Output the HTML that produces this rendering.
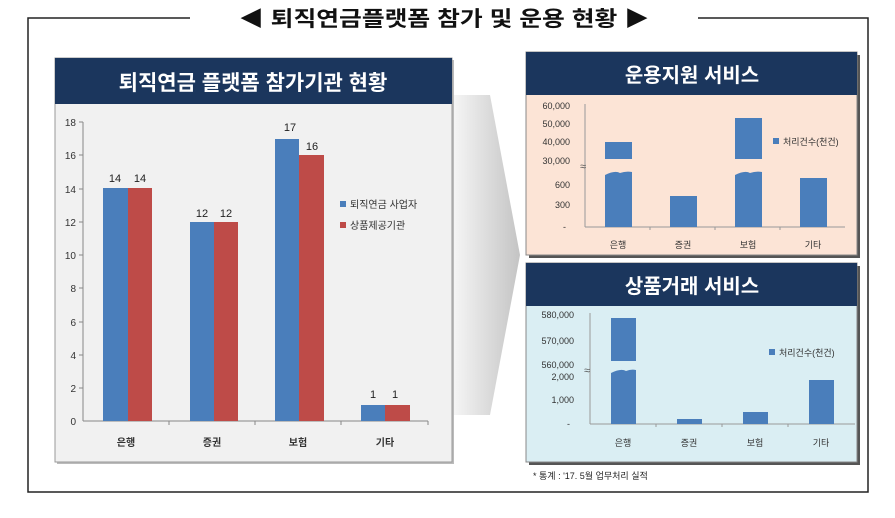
<!DOCTYPE html>
<html><head><meta charset="utf-8"><style>
html,body{margin:0;padding:0;background:#fff;}
svg{display:block;font-family:"Liberation Sans","Noto Sans CJK KR",sans-serif;}
</style></head><body>
<svg width="895" height="518" viewBox="0 0 895 518" xmlns="http://www.w3.org/2000/svg">
<defs>
<linearGradient id="arr" x1="0" x2="1" y1="0" y2="0"><stop offset="0" stop-color="#f6f6f6"/><stop offset="1" stop-color="#c4c4c4"/></linearGradient>
</defs>
<polyline points="190,18 28,18 28,492 868,492 868,18 698,18" fill="none" stroke="#222" stroke-width="1.5"/>
<text x="444" y="26" text-anchor="middle" font-size="21" font-weight="bold" fill="#111" textLength="410" lengthAdjust="spacingAndGlyphs">◀ 퇴직연금플랫폼 참가 및 운용 현황 ▶</text>
<polygon points="452,95 490,95 520,255 490,415 452,415" fill="url(#arr)"/>
<rect x="57" y="60" width="397" height="404" fill="#bbb"/>
<rect x="55" y="58" width="397" height="404" fill="#f1f1f1" stroke="#999" stroke-width="1"/>
<rect x="55" y="58" width="397" height="46" fill="#1b365d"/>
<text x="253" y="90" text-anchor="middle" font-size="21" font-weight="bold" fill="#fff">퇴직연금 플랫폼 참가기관 현황</text>
<g stroke="#888" stroke-width="1">
<line x1="83" y1="122" x2="83" y2="421"/><line x1="83" y1="421" x2="428" y2="421"/>
<line x1="79" y1="122" x2="83" y2="122"/><line x1="79" y1="155" x2="83" y2="155"/><line x1="79" y1="189" x2="83" y2="189"/><line x1="79" y1="222" x2="83" y2="222"/><line x1="79" y1="255" x2="83" y2="255"/><line x1="79" y1="288" x2="83" y2="288"/><line x1="79" y1="322" x2="83" y2="322"/><line x1="79" y1="355" x2="83" y2="355"/><line x1="79" y1="388" x2="83" y2="388"/>
<line x1="169" y1="421" x2="169" y2="425"/><line x1="255" y1="421" x2="255" y2="425"/><line x1="341" y1="421" x2="341" y2="425"/><line x1="428" y1="421" x2="428" y2="425"/>
</g>
<g font-size="10" fill="#333" text-anchor="end">
<text x="76" y="126">18</text><text x="76" y="159">16</text><text x="76" y="193">14</text><text x="76" y="226">12</text><text x="76" y="259">10</text><text x="76" y="292">8</text><text x="76" y="326">6</text><text x="76" y="359">4</text><text x="76" y="392">2</text><text x="76" y="425">0</text>
</g>
<g>
<rect x="103" y="188" width="25" height="233" fill="#4a7ebb"/><rect x="128" y="188" width="24" height="233" fill="#be4b48"/>
<rect x="190" y="222" width="24" height="199" fill="#4a7ebb"/><rect x="214" y="222" width="24" height="199" fill="#be4b48"/>
<rect x="275" y="139" width="24" height="282" fill="#4a7ebb"/><rect x="299" y="155" width="25" height="266" fill="#be4b48"/>
<rect x="361" y="405" width="24" height="16" fill="#4a7ebb"/><rect x="385" y="405" width="25" height="16" fill="#be4b48"/>
</g>
<g font-size="11" fill="#222" text-anchor="middle">
<text x="115" y="182">14</text><text x="140" y="182">14</text>
<text x="202" y="217">12</text><text x="226" y="217">12</text>
<text x="290" y="131">17</text><text x="312" y="150">16</text>
<text x="373" y="398">1</text><text x="395" y="398">1</text>
</g>
<g font-size="10" font-weight="bold" fill="#333" text-anchor="middle">
<text x="126" y="446">은행</text><text x="212" y="446">증권</text><text x="298" y="446">보험</text><text x="385" y="446">기타</text>
</g>
<rect x="340" y="201" width="6" height="6" fill="#4a7ebb"/><text x="350" y="208" font-size="10" fill="#333">퇴직연금 사업자</text>
<rect x="340" y="222" width="6" height="6" fill="#be4b48"/><text x="350" y="229" font-size="10" fill="#333">상품제공기관</text>

<rect x="529" y="55" width="331" height="203" fill="#555"/>
<rect x="526" y="52" width="331" height="203" fill="#fce4d6" stroke="#888"/>
<rect x="526" y="52" width="331" height="43" fill="#1b365d"/>
<text x="692" y="82" text-anchor="middle" font-size="20" font-weight="bold" fill="#fff">운용지원 서비스</text>
<g stroke="#999"><line x1="585" y1="104" x2="585" y2="227"/><line x1="585" y1="227" x2="845" y2="227"/>
<line x1="650" y1="227" x2="650" y2="230"/><line x1="715" y1="227" x2="715" y2="230"/><line x1="780" y1="227" x2="780" y2="230"/></g>
<g font-size="9" fill="#333" text-anchor="end">
<text x="570" y="109">60,000</text><text x="570" y="127">50,000</text><text x="570" y="145">40,000</text><text x="570" y="164">30,000</text><text x="570" y="188">600</text><text x="570" y="208">300</text><text x="566" y="230">-</text>
</g>
<text x="580" y="170" font-size="11" fill="#555">≈</text>
<g fill="#4a7ebb">
<rect x="605" y="142" width="27" height="17"/><path d="M605,175 Q615,170 620,173 Q626,171 632,172 L632,227 L605,227Z"/>
<rect x="670" y="196" width="27" height="31"/>
<rect x="735" y="118" width="27" height="41"/><path d="M735,175 Q745,170 750,173 Q756,171 762,172 L762,227 L735,227Z"/>
<rect x="800" y="178" width="27" height="49"/>
</g>
<g font-size="9" fill="#333" text-anchor="middle"><text x="618" y="248">은행</text><text x="683" y="248">증권</text><text x="748" y="248">보험</text><text x="813" y="248">기타</text></g>
<rect x="773" y="138" width="6" height="6" fill="#4a7ebb"/><text x="783" y="145" font-size="9" fill="#333">처리건수(천건)</text>

<rect x="529" y="266" width="331" height="199" fill="#555"/>
<rect x="526" y="263" width="331" height="199" fill="#daeef3" stroke="#888"/>
<rect x="526" y="263" width="331" height="43" fill="#1b365d"/>
<text x="692" y="293" text-anchor="middle" font-size="20" font-weight="bold" fill="#fff">상품거래 서비스</text>
<g stroke="#999"><line x1="590" y1="313" x2="590" y2="424"/><line x1="590" y1="424" x2="855" y2="424"/>
<line x1="656" y1="424" x2="656" y2="427"/><line x1="722" y1="424" x2="722" y2="427"/><line x1="788" y1="424" x2="788" y2="427"/></g>
<g font-size="9" fill="#333" text-anchor="end">
<text x="574" y="318">580,000</text><text x="574" y="344">570,000</text><text x="574" y="368">560,000</text><text x="574" y="380">2,000</text><text x="574" y="403">1,000</text><text x="570" y="427">-</text>
</g>
<text x="584" y="374" font-size="11" fill="#555">≈</text>
<g fill="#4a7ebb">
<rect x="611" y="318" width="25" height="43"/><path d="M611,373 Q621,368 626,371 Q631,369 636,370 L636,424 L611,424Z"/>
<rect x="677" y="419" width="25" height="5"/>
<rect x="743" y="412" width="25" height="12"/>
<rect x="809" y="380" width="25" height="44"/>
</g>
<g font-size="9" fill="#333" text-anchor="middle"><text x="623" y="446">은행</text><text x="689" y="446">증권</text><text x="755" y="446">보험</text><text x="821" y="446">기타</text></g>
<rect x="769" y="349" width="6" height="6" fill="#4a7ebb"/><text x="779" y="356" font-size="9" fill="#333">처리건수(천건)</text>
<text x="533" y="479" font-size="9" fill="#222">* 통계 : '17. 5월 업무처리 실적</text>
</svg>
</body></html>
